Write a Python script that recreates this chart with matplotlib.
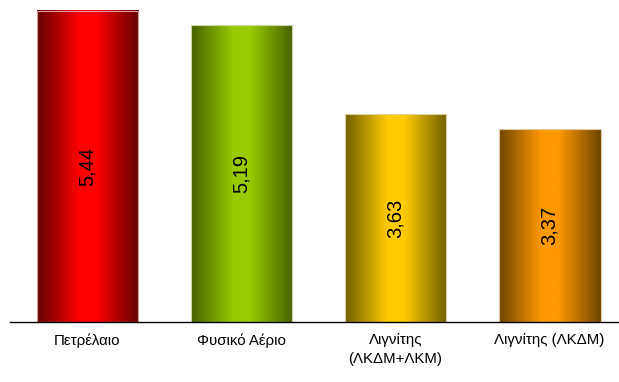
import numpy as np
import matplotlib
matplotlib.use("Agg")
import matplotlib.pyplot as plt
from matplotlib.colors import LinearSegmentedColormap

plt.rcParams.update({
    "font.family": ["Liberation Sans", "DejaVu Sans"],
    "font.size": 10.8,
})

categories = ["Πετρέλαιο", "Φυσικό Αέριο", "Λιγνίτης\n(ΛΚΔΜ+ΛΚΜ)", "Λιγνίτης (ΛΚΔΜ)"]
values = [5.44, 5.19, 3.63, 3.37]
value_labels = ["5,44", "5,19", "3,63", "3,37"]
dark_colors = ["#660000", "#476000", "#726000", "#704600"]
bright_colors = ["#ff0000", "#99cc00", "#ffcc00", "#ff9900"]
edge_colors = ["#d9a0a0", "#c8d8a0", "#e0d0a0", "#e0c8a0"]

fig = plt.figure(figsize=(6.19, 3.82), dpi=100)
ax = fig.add_axes([10 / 619, 60 / 382, 609 / 619, 322 / 382])

x = np.arange(len(values))
width = 0.66
bars = ax.bar(x, values, width=width, color="none",
              edgecolor=edge_colors, linewidth=0.8, zorder=3)

# horizontal gradient: dark edges, bright centre
grad = np.linspace(0, 1, 256).reshape(1, -1)
for bar, dc, bc in zip(bars, dark_colors, bright_colors):
    cmap = LinearSegmentedColormap.from_list(
        "g", [(0, dc), (0.42, bc), (0.58, bc), (1, dc)])
    x0 = bar.get_x()
    x1 = x0 + bar.get_width()
    h = bar.get_height()
    ax.imshow(grad, cmap=cmap, extent=[x0, x1, 0, h], aspect="auto",
              interpolation="bicubic", zorder=2)

for xi, v, lab in zip(x, values, value_labels):
    ax.text(xi, v / 2, lab, rotation=90, ha="center", va="center",
            fontsize=14.5, color="black", zorder=4)

ax.set_xlim(-0.503, 3.45)
ax.set_ylim(0, 5.63)
ax.set_xticks(x)
ax.set_xticklabels(categories, linespacing=1.45)
ax.tick_params(axis="x", length=0, pad=8)
ax.set_yticks([])
for s in ["top", "right", "left"]:
    ax.spines[s].set_visible(False)
ax.spines["bottom"].set_linewidth(1.0)
ax.spines["bottom"].set_zorder(5)

fig.savefig("out.png", dpi=100)
